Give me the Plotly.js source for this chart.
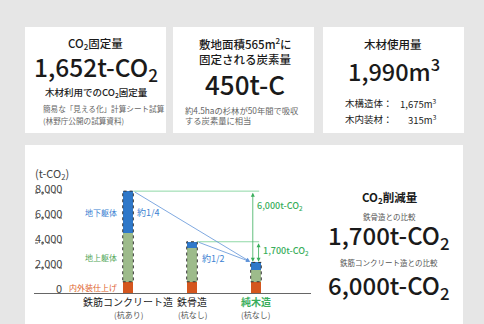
<!DOCTYPE html>
<html>
<head>
<meta charset="utf-8">
<script src="https://cdn.plot.ly/plotly-3.0.1.min.js"></script>
<style>html,body{margin:0;padding:0;background:#e6e6e6;}#chart{width:484px;height:324px;}</style>
</head>
<body>
<div id="chart"></div>
<script>
// ---- data ----
const categories = ['鉄筋コンクリート造', '鉄骨造', '純木造'];
const subLabels = ['(杭あり)', '(杭なし)', '(杭なし)'];
const finishing = [900, 900, 900];      // 内外装仕上げ
const aboveGround = [3900, 2700, 950];  // 地上躯体
const underground = [3350, 500, 600];   // 地下躯体
const seriesNames = ['内外装仕上げ', '地上躯体', '地下躯体'];
const yTicks = [0, 2000, 4000, 6000, 8000];
const yTickText = ['0', '2,000', '4,000', '6,000', '8,000'];
const reductionLabels = ['6,000t-CO<sub>2</sub>', '1,700t-CO<sub>2</sub>'];
const ratioLabels = ['約1/4', '約1/2'];

// ---- helpers ----
const W = 484, H = 324;
const px = x => x / W;
const py = y => 1 - y / H;
const FONT = 'Noto Sans CJK JP, Noto Sans, sans-serif';
const colors = {orange: '#d4561e', green: '#9dbb8b', blue: '#2f78c9',
  tBlue: '#3b7fd2', tGreen: '#55a85a', tOrange: '#e0622a', gLine: '#8fd8a6', gText: '#3aae5c'};

const totals = categories.map((_, i) => finishing[i] + aboveGround[i] + underground[i]);
const barW = 0.166;

const traces = [
  {x: categories, y: finishing, name: seriesNames[0], marker: {color: colors.orange}},
  {x: categories, y: aboveGround, name: seriesNames[1], marker: {color: colors.green}},
  {x: categories, y: underground, name: seriesNames[2], marker: {color: colors.blue}}
].map(t => Object.assign({type: 'bar', width: barW, hoverinfo: 'none'}, t));

const shapes = [];
// cards
[[25, 166], [173, 314], [323, 464]].forEach(([a, b]) => shapes.push({type: 'rect', xref: 'paper', yref: 'paper',
  x0: px(a), x1: px(b), y0: py(133), y1: py(27), fillcolor: '#ffffff', line: {width: 0}, layer: 'below'}));
shapes.push({type: 'rect', xref: 'paper', yref: 'paper', x0: px(25), x1: px(463), y0: py(330), y1: py(145),
  fillcolor: '#ffffff', line: {width: 0}, layer: 'below'});
// dotted underlines of tick labels
yTicks.forEach(v => { if (v > 0) shapes.push({type: 'line', xref: 'paper', yref: 'y', x0: px(35), x1: px(63), y0: v, y1: v,
  line: {color: '#555', width: 1, dash: 'dot'}}); });
// dotted outlines on bars
categories.forEach((c, i) => shapes.push({type: 'rect', xref: 'x', yref: 'y', x0: i - barW / 2, x1: i + barW / 2,
  y0: finishing[i], y1: totals[i], line: {color: '#333', width: 1, dash: 'dot'}}));
// green horizontal guide lines
[0, 1].forEach(i => shapes.push({type: 'line', xref: 'x', yref: 'y', x0: i + barW / 2, x1: 2.05, y0: totals[i], y1: totals[i],
  line: {color: colors.gLine, width: 1}}));

const annotations = [];
const pa = (text, x, y, size, opts = {}) => annotations.push(Object.assign({
  text, xref: 'paper', yref: 'paper', x: px(x), y: py(y), showarrow: false, xanchor: 'center', yanchor: 'middle',
  font: {family: FONT, size, color: opts.color || '#1a1a1a', weight: opts.weight || 400}}, opts.extra || {}));

// card 1
pa('CO<sub>2</sub>固定量', 95, 44, 11.5, {weight: 500});
pa('1,652t-CO<sub>2</sub>', 96, 68, 24.5, {weight: 500});
pa('木材利用でのCO<sub>2</sub>固定量', 96, 93, 9.5, {weight: 500, color: '#222'});
pa('簡易な「見える化」計算シート試算', 41, 109, 7.6, {color: '#666', extra: {xanchor: 'left'}});
pa('(林野庁公開の試算資料)', 41, 120, 7.6, {color: '#666', extra: {xanchor: 'left'}});
// card 2
pa('敷地面積565m<sup>2</sup>に', 245, 43, 11.5, {weight: 500});
pa('固定される炭素量', 245, 59, 11.5, {weight: 500});
pa('450t-C', 245, 83, 26, {weight: 500});
pa('約4.5haの杉林が50年間で吸収', 183, 110, 8.3, {color: '#666', extra: {xanchor: 'left'}});
pa('する炭素量に相当', 183, 120, 8.3, {color: '#666', extra: {xanchor: 'left'}});
// card 3
pa('木材使用量', 393, 44, 11.5, {weight: 500});
pa('1,990m<sup>3</sup>', 394, 70, 23.5, {weight: 500});
pa('木構造体：', 343, 103, 9.5, {extra: {xanchor: 'left'}});
pa('1,675m<sup>3</sup>', 439, 103, 9.5, {extra: {xanchor: 'right'}});
pa('木内装材：', 343, 119, 9.5, {extra: {xanchor: 'left'}});
pa('315m<sup>3</sup>', 439, 119, 9.5, {extra: {xanchor: 'right'}});
// right panel
pa('CO<sub>2</sub>削減量', 390, 197, 11.5, {weight: 600});
pa('鉄骨造との比較', 389, 216, 7.5, {color: '#555'});
pa('1,700t-CO<sub>2</sub>', 389, 236, 24, {weight: 500});
pa('鉄筋コンクリート造との比較', 389, 262, 7.5, {color: '#555'});
pa('6,000t-CO<sub>2</sub>', 389, 286, 24, {weight: 500});
// y unit
pa('(t-CO<sub>2</sub>)', 33, 173, 11, {color: '#444', extra: {xanchor: 'left'}});

const da = (text, x, y, size, color, opts = {}) => annotations.push(Object.assign({
  text, xref: 'x', yref: 'y', x, y, showarrow: false, xanchor: 'left', yanchor: 'middle',
  font: {family: FONT, size, color, weight: opts.weight || 400}}, opts));

// y tick labels (sit just above their dotted underline)
yTicks.forEach((v, i) => annotations.push({text: yTickText[i], xref: 'paper', yref: 'y', x: px(64), y: v,
  xanchor: 'right', yanchor: 'middle', yshift: 5, showarrow: false, font: {family: FONT, size: 11, color: '#444'}}));

// sub labels under the categories
categories.forEach((c, i) => annotations.push({text: subLabels[i], xref: 'x', yref: 'paper', x: i, y: py(314),
  xanchor: 'center', yanchor: 'middle', showarrow: false, font: {family: FONT, size: 8, color: '#555'}}));

// segment labels next to the RC bar
const segVals = [finishing, aboveGround, underground];
const segCols = [colors.tOrange, colors.tGreen, colors.tBlue];
let base = 0;
segVals.forEach((arr, k) => {
  da(seriesNames[k], 0 - barW / 2, base + arr[0] / 2, 8, segCols[k], {xanchor: 'right', xshift: -4});
  base += arr[0];
});
// ratio labels
da(ratioLabels[0], 0 + barW / 2, finishing[0] + aboveGround[0] + underground[0] / 2, 9, colors.tBlue, {xshift: 2});
da(ratioLabels[1], 1 + barW / 2, 2800, 9, colors.tBlue, {xshift: 3});
// blue arrows to the wooden bar
[0, 1].forEach(i => annotations.push({xref: 'x', yref: 'y', axref: 'x', ayref: 'y', text: '',
  x: 2 - barW / 2 - 0.01, y: totals[2] + 60, ax: i + barW / 2, ay: totals[i], showarrow: true,
  arrowhead: 2, arrowsize: 1, arrowwidth: 0.8, arrowcolor: '#5f93d8', standoff: 0}));
// green double arrows
[[0, -0.05], [1, 0.04]].forEach(([i, dx]) => annotations.push({xref: 'x', yref: 'y', axref: 'x', ayref: 'y', text: '',
  x: 2 + dx, y: totals[2] + 60, ax: 2 + dx, ay: totals[i], showarrow: true, arrowside: 'end+start',
  arrowhead: 2, startarrowhead: 2, arrowsize: 1, startarrowsize: 1, arrowwidth: 0.8, arrowcolor: colors.gText, standoff: 0, startstandoff: 0}));
da(reductionLabels[0], 2, 7000, 9, colors.gText, {weight: 500, xshift: -1});
da(reductionLabels[1], 2, 3350, 9, colors.gText, {weight: 500, xshift: 5});

const tickText = categories.map((c, i) => i === 2 ? `<span style="color:${colors.gText}"><b>${c}</b></span>` : c);

const layout = {
  width: W, height: H, margin: {l: 0, r: 0, t: 0, b: 0},
  paper_bgcolor: '#e6e6e6', plot_bgcolor: 'rgba(0,0,0,0)',
  barmode: 'stack', showlegend: false,
  font: {family: FONT, color: '#222'},
  xaxis: {type: 'category', domain: [px(34), px(311)], range: [-1.47, 2.86], tickvals: categories, ticktext: tickText,
    tickangle: 0, showline: true, linecolor: '#666', linewidth: 1.2, ticks: '', showgrid: false, zeroline: false,
    tickfont: {family: FONT, size: 10, color: '#222'}, fixedrange: true},
  yaxis: {domain: [py(293), py(180.5)], range: [0, 9000], showticklabels: false,
    tickvals: yTicks, showgrid: false, zeroline: false, showline: false, ticks: '', fixedrange: true},
  shapes, annotations
};
Plotly.newPlot('chart', traces, layout, {staticPlot: true, displayModeBar: false});
</script>
</body>
</html>
